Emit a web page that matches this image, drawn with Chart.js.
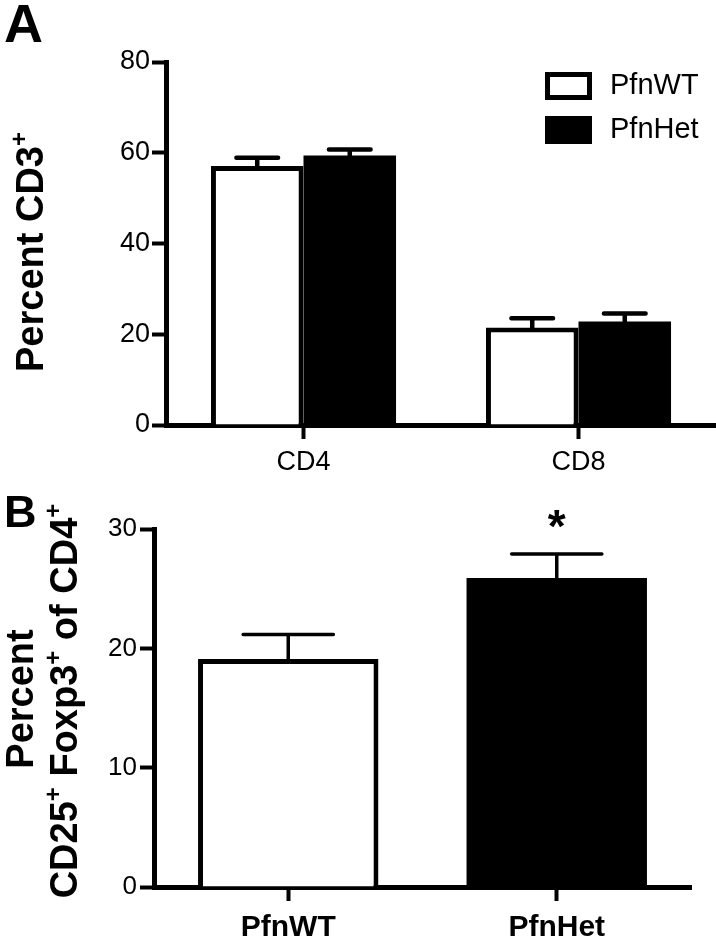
<!DOCTYPE html>
<html>
<head>
<meta charset="utf-8">
<script src="https://cdn.jsdelivr.net/npm/chart.js@4.4.0/dist/chart.umd.min.js"></script>
<style>
html, body { margin: 0; padding: 0; background: #fff; }
canvas { position: absolute; left: 0; }
#chartA { top: 0; }
#chartB { top: 470px; }
</style>
</head>
<body>
<canvas id="chartA" width="716" height="470"></canvas>
<canvas id="chartB" width="716" height="469"></canvas>
<script>
const FONT = "'Liberation Sans', Arial, Helvetica, sans-serif";

// panel A - percent of CD3+ cells
const cellTypes = ['CD4', 'CD8'];
const wtPercent = [57.1, 21.5];
const wtError = [1.8, 2.0];
const hetPercent = [59.4, 22.8];
const hetError = [1.3, 1.8];
const yTicksA = [0, 20, 40, 60, 80];

// panel B - Treg percent of CD4+
const genotypes = ['PfnWT', 'PfnHet'];
const tregPercent = [19.1, 25.9];
const tregError = [2.05, 2.0];
const tregSignif = ['', '*'];
const yTicksB = [0, 10, 20, 30];

// draws text made of normal and superscript pieces, rotated to read bottom-up
function drawRotated(ctx, parts, baseX, centerY, size) {
    const big = 'bold ' + size + 'px ' + FONT;
    const small = 'bold ' + Math.round(size * 0.62) + 'px ' + FONT;
    let total = 0;
    parts.forEach(p => {
        ctx.font = p.sup ? small : big;
        total += ctx.measureText(p.t).width;
    });
    ctx.save();
    ctx.translate(baseX, centerY);
    ctx.rotate(-Math.PI / 2);
    ctx.fillStyle = '#000';
    ctx.textBaseline = 'alphabetic';
    ctx.textAlign = 'left';
    let x = -total / 2;
    parts.forEach(p => {
        ctx.font = p.sup ? small : big;
        ctx.fillText(p.t, x, p.sup ? -size * 0.42 : 0);
        x += ctx.measureText(p.t).width;
    });
    ctx.restore();
}

const errorBars = {
    id: 'errorBars',
    afterDatasetsDraw(chart, args, opts) {
        const ctx = chart.ctx;
        const yScale = chart.scales.y;
        chart.data.datasets.forEach((ds, i) => {
            const meta = chart.getDatasetMeta(i);
            meta.data.forEach((bar, j) => {
                const top = yScale.getPixelForValue(ds.data[j]);
                const end = yScale.getPixelForValue(ds.data[j] + ds.errors[j]);
                const half = bar.width * opts.capRatio / 2;
                ctx.save();
                ctx.strokeStyle = '#000';
                ctx.lineWidth = opts.lineWidth;
                ctx.lineCap = 'round';
                ctx.beginPath();
                ctx.moveTo(bar.x, top);
                ctx.lineTo(bar.x, end);
                ctx.moveTo(bar.x - half, end);
                ctx.lineTo(bar.x + half, end);
                ctx.stroke();
                // significance mark above the cap
                if (ds.marks && ds.marks[j]) {
                    ctx.fillStyle = '#000';
                    ctx.font = 'bold 46px ' + FONT;
                    ctx.textAlign = 'center';
                    ctx.textBaseline = 'alphabetic';
                    ctx.fillText(ds.marks[j], bar.x, end - 12);
                }
                ctx.restore();
            });
        });
    }
};

const panelA = {
    id: 'panelA',
    afterDraw(chart) {
        const ctx = chart.ctx;
        ctx.save();
        ctx.fillStyle = '#000';
        ctx.font = 'bold 54px ' + FONT;
        ctx.textBaseline = 'alphabetic';
        ctx.fillText('A', 4, 42);
        // legend
        ctx.font = '29px ' + FONT;
        ctx.textBaseline = 'middle';
        chart.data.datasets.forEach((ds, i) => {
            const top = 72 + i * 44;
            ctx.fillStyle = ds.backgroundColor;
            ctx.fillRect(545, top, 47, 28);
            ctx.strokeStyle = '#000';
            ctx.lineWidth = 5;
            ctx.strokeRect(547.5, top + 2.5, 42, 23);
            ctx.fillStyle = '#000';
            ctx.fillText(ds.label, 610, top + 14);
        });
        ctx.restore();
        drawRotated(ctx, [{t: 'Percent CD3'}, {t: '+', sup: true}], 43, 252, 38);
    }
};

const panelB = {
    id: 'panelB',
    afterDraw(chart) {
        const ctx = chart.ctx;
        ctx.save();
        ctx.fillStyle = '#000';
        ctx.font = 'bold 45px ' + FONT;
        ctx.textBaseline = 'alphabetic';
        ctx.fillText('B', 4, 57);
        ctx.restore();
        drawRotated(ctx, [{t: 'Percent'}], 33, 229, 38);
        drawRotated(ctx, [
            {t: 'CD25'}, {t: '+', sup: true},
            {t: ' Foxp3'}, {t: '+', sup: true},
            {t: ' of CD4'}, {t: '+', sup: true}
        ], 77, 231, 38);
    }
};

function axisOptions(fontSize, bold, extra) {
    return Object.assign({
        grid: {
            display: true, drawOnChartArea: false, drawTicks: true,
            tickLength: 14, tickWidth: 4, tickColor: '#000', color: '#000', offset: false
        },
        border: { display: true, width: 5, color: '#000' },
        ticks: {
            color: '#000',
            font: { family: FONT, size: fontSize, weight: bold ? 'bold' : 'normal' }
        }
    }, extra);
}

new Chart(document.getElementById('chartA'), {
    type: 'bar',
    data: {
        labels: cellTypes,
        datasets: [
            {
                label: 'PfnWT', data: wtPercent, errors: wtError,
                backgroundColor: '#ffffff', borderColor: '#000', borderWidth: 5,
                categoryPercentage: 0.673, barPercentage: 1.0
            },
            {
                label: 'PfnHet', data: hetPercent, errors: hetError,
                backgroundColor: '#000000', borderColor: '#000', borderWidth: 0,
                categoryPercentage: 0.673, barPercentage: 1.0
            }
        ]
    },
    options: {
        responsive: false,
        animation: false,
        devicePixelRatio: 1,
        layout: { padding: { top: 62, right: 0, left: 0, bottom: 0 } },
        plugins: {
            legend: { display: false },
            tooltip: { enabled: false },
            errorBars: { capRatio: 0.45, lineWidth: 4.5 }
        },
        scales: {
            x: axisOptions(27, false, {
                afterFit(scale) { scale.height = 45; }
            }),
            y: axisOptions(27, false, {
                min: yTicksA[0],
                max: yTicksA[yTicksA.length - 1],
                afterFit(scale) { scale.width = 166; }
            })
        }
    },
    plugins: [errorBars, panelA]
});

const chartA = Chart.getChart('chartA');
chartA.options.scales.x.ticks.padding = 7;
chartA.options.scales.y.ticks.padding = 2;
chartA.options.scales.y.ticks.stepSize = yTicksA[1] - yTicksA[0];
chartA.update();

new Chart(document.getElementById('chartB'), {
    type: 'bar',
    data: {
        labels: genotypes,
        datasets: [
            {
                label: 'Percent CD25+ Foxp3+ of CD4+', data: tregPercent, errors: tregError, marks: tregSignif,
                backgroundColor: ['#ffffff', '#000000'], borderColor: '#000', borderWidth: [5, 0],
                categoryPercentage: 0.672, barPercentage: 1.0
            }
        ]
    },
    options: {
        responsive: false,
        animation: false,
        devicePixelRatio: 1,
        layout: { padding: { top: 59, right: 25, left: 0, bottom: 0 } },
        plugins: {
            legend: { display: false },
            tooltip: { enabled: false },
            errorBars: { capRatio: 0.5, lineWidth: 3.5 }
        },
        scales: {
            x: axisOptions(30, true, {
                afterFit(scale) { scale.height = 52; }
            }),
            y: axisOptions(26, false, {
                min: yTicksB[0],
                max: yTicksB[yTicksB.length - 1],
                afterFit(scale) { scale.width = 154; }
            })
        }
    },
    plugins: [errorBars, panelB]
});

const chartB = Chart.getChart('chartB');
chartB.options.scales.x.ticks.padding = 9;
chartB.options.scales.y.ticks.padding = 3;
chartB.options.scales.y.ticks.stepSize = yTicksB[1] - yTicksB[0];
chartB.update();
</script>
</body>
</html>
